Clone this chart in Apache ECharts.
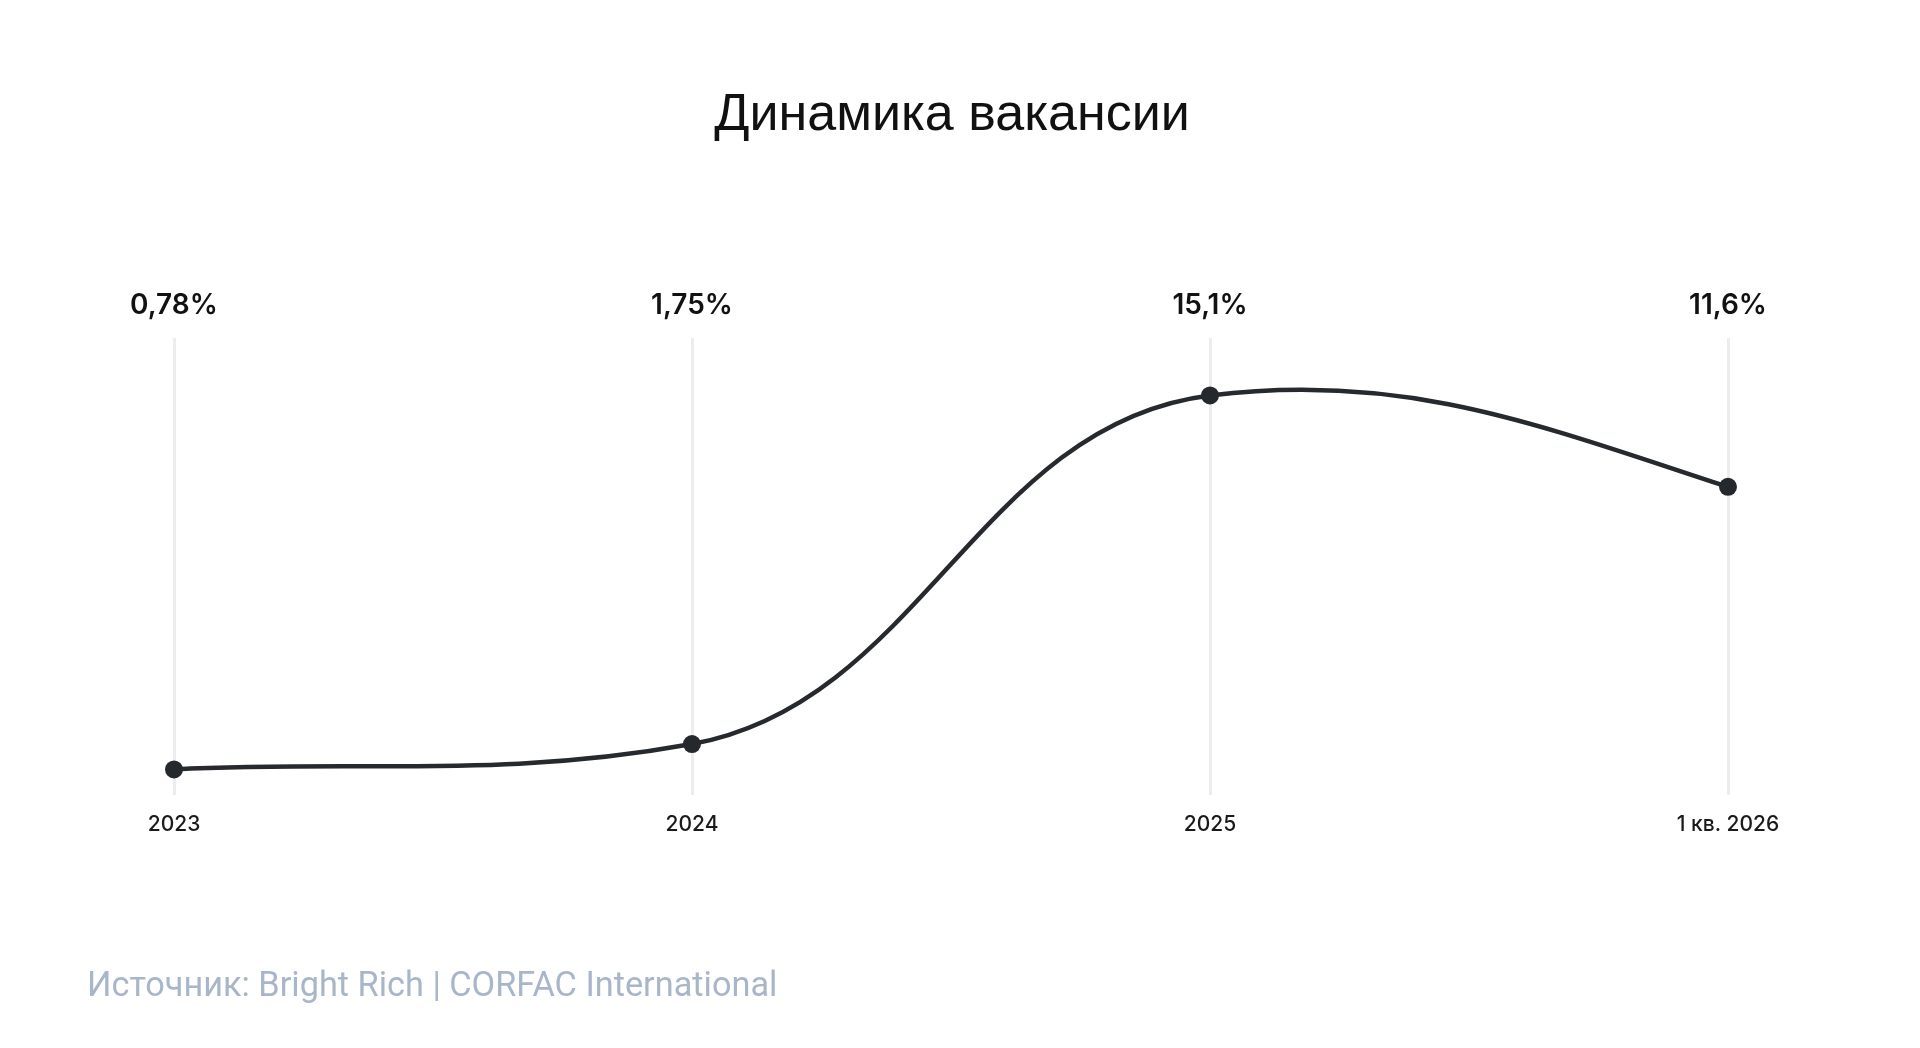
<!DOCTYPE html>
<html>
<head>
<meta charset="utf-8">
<script src="https://cdn.jsdelivr.net/npm/echarts@6/dist/echarts.min.js"></script>
<style>
html,body{margin:0;padding:0;background:#fff;}
#chart{width:1920px;height:1048px;}
</style>
</head>
<body>
<div id="chart"></div>
<script>
const titleText = 'Динамика вакансии';
const sourceText = 'Источник: Bright Rich | CORFAC International';
const categories = ['2023', '2024', '2025', '1 кв. 2026'];
const values = [0.78, 1.75, 15.1, 11.6];
const valueLabels = ['0,78%', '1,75%', '15,1%', '11,6%'];

// curve smoothing style (handle length as share of chord, damping at turning points)
const HANDLE = 0.374;
const TURN_DAMP = 0.5;

function pixelPoints(api) {
  return values.map((v, i) => api.coord([i, v]));
}
function slopes(p) {
  const n = p.length, sec = [], m = new Array(n).fill(0);
  for (let i = 0; i < n - 1; i++) sec.push((p[i + 1][1] - p[i][1]) / (p[i + 1][0] - p[i][0]));
  for (let i = 1; i < n - 1; i++) {
    const a = sec[i - 1], b = sec[i];
    if (a * b > 0) m[i] = Math.sign(a) * Math.sqrt(a * b);
    else m[i] = TURN_DAMP * (a + b) / 2;
  }
  m[0] = sec[0];
  m[n - 1] = (3 * sec[n - 2] - m[n - 2]) / 2;
  return m;
}

function renderSegment(params, api) {
  const i = params.dataIndex;
  if (i >= values.length - 1) return null;
  const p = pixelPoints(api);
  const m = slopes(p);
  const a = p[i], b = p[i + 1];
  const chord = Math.hypot(b[0] - a[0], b[1] - a[1]);
  const ha = HANDLE * chord / Math.sqrt(1 + m[i] * m[i]);
  const hb = HANDLE * chord / Math.sqrt(1 + m[i + 1] * m[i + 1]);
  return {
    type: 'bezierCurve',
    shape: {
      x1: a[0], y1: a[1],
      cpx1: a[0] + ha, cpy1: a[1] + m[i] * ha,
      cpx2: b[0] - hb, cpy2: b[1] - m[i + 1] * hb,
      x2: b[0], y2: b[1]
    },
    style: { stroke: '#26292d', lineWidth: 4.5, fill: null, lineCap: 'round' }
  };
}

const chart = echarts.init(document.getElementById('chart'));
chart.setOption({
  backgroundColor: '#ffffff',
  animation: false,
  title: {
    text: titleText,
    left: 947,
    top: 85,
    textAlign: 'center',
    textStyle: {
      fontFamily: 'Liberation Sans',
      fontSize: 52,
      fontWeight: 'normal',
      color: '#111111'
    }
  },
  graphic: [{
    type: 'text',
    x: 87,
    y: 987,
    style: {
      text: sourceText,
      fontFamily: 'Roboto',
      fontSize: 34.3,
      fill: '#a9b6ca',
      align: 'left',
      verticalAlign: 'middle'
    }
  }],
  grid: {
    left: 174,
    right: 192,
    top: 338,
    bottom: 253,
    containLabel: false
  },
  xAxis: [{
    type: 'category',
    data: categories,
    boundaryGap: false,
    position: 'bottom',
    axisLine: { show: false },
    axisTick: { show: false },
    axisLabel: {
      interval: 0,
      margin: 19,
      fontFamily: 'Inter',
      fontSize: 21,
      fontWeight: 500,
      color: '#1a1a1a'
    },
    splitLine: {
      show: true,
      lineStyle: { color: '#ededf0', width: 3 }
    }
  }, {
    type: 'category',
    data: valueLabels,
    boundaryGap: false,
    position: 'top',
    axisLine: { show: false },
    axisTick: { show: false },
    axisLabel: {
      interval: 0,
      margin: 18,
      fontFamily: 'Inter',
      fontSize: 28,
      fontWeight: 600,
      color: '#111111'
    },
    splitLine: { show: false }
  }],
  yAxis: {
    type: 'value',
    min: -0.2,
    max: 17.3,
    show: false,
    splitLine: { show: false }
  },
  series: [{
    type: 'custom',
    xAxisIndex: 0,
    data: values.map((v, i) => [i, v]),
    renderItem: renderSegment,
    z: 2,
    silent: true
  }, {
    type: 'scatter',
    xAxisIndex: 0,
    data: values,
    symbol: 'circle',
    symbolSize: 18,
    itemStyle: { color: '#25282c', opacity: 1 },
    z: 3
  }]
});
</script>
</body>
</html>
